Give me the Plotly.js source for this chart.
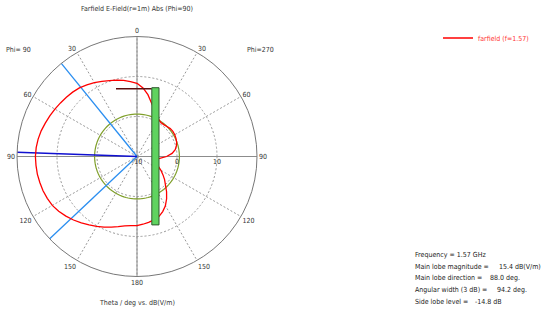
<!DOCTYPE html>
<html>
<head>
<meta charset="utf-8">
<script src="https://cdn.plot.ly/plotly-3.0.1.min.js"></script>
<style>html,body{margin:0;padding:0;background:#fff;}#chart{width:550px;height:313px;}</style>
</head>
<body>
<div id="chart"></div>
<script>
// ---- data ----
var thetaPhi90 = [0, 5, 10, 15, 20, 25, 30, 35, 40, 45, 50, 55, 60, 65, 70, 75, 80, 85, 90, 95, 100, 105, 110, 115, 120, 125, 130, 135, 140, 145, 150, 155, 160, 165, 170, 175, 180];
var valuesPhi90 = [8.3, 8.8, 9.3, 9.75, 10.2, 10.75, 11.3, 11.85, 12.4, 12.75, 13.05, 13.35, 13.7, 14.05, 14.4, 14.8, 15.1, 15.3, 15.4, 15.35, 15.3, 15.15, 15.0, 14.75, 14.45, 13.9, 13.2, 12.45, 11.65, 10.9, 10.2, 9.5, 8.8, 8.15, 7.6, 7.35, 7.3];
var thetaPhi270 = [0, 5, 10, 15, 20, 25, 30, 35, 40, 45, 50, 55, 60, 65, 70, 75, 80, 85, 90, 95, 100, 102, 105, 110, 115, 120, 125, 130, 135, 140, 145, 150, 155, 160, 165, 170, 175, 180];
var valuesPhi270 = [8.3, 7.2, 5.7, 3.9, 2.6, 1.4, 0.75, 0.4, 0.4, 0.6, 0.85, 0.95, 0.9, 0.75, 0.55, 0.2, -0.3, -1.2, -2.6, -4.3, -5.5, -5.8, -5.6, -5.2, -4.1, -3.1, -2.1, -1.0, 0.05, 1.5, 2.9, 4.2, 5.2, 6.0, 6.4, 6.7, 7.0, 7.3];
var mainLobeDirection = 88.0;
var beamEdges = [39.1, 133.3];
var mainLobeMagnitude = 15.4;
var sideLobeLevel = -14.8;
var angTickVals = [0, 30, 60, 90, 120, 150, 180, 210, 240, 270, 300, 330];
var angTickText = ['0', '30', '60', '90', '120', '150', '180', '150', '120', '90', '60', '30'];
var radTickVals = [-10, 0, 10];
var radTickText = ['-10', '0', '10'];
var radRange = [-10, 20];
var infoLabels = ['Frequency = 1.57 GHz', 'Main lobe magnitude =', 'Main lobe direction =', 'Angular width (3 dB) =', 'Side lobe level ='];
var infoValues = ['', '15.4 dB(V/m)', '88.0 deg.', '94.2 deg.', '-14.8 dB'];

// ---- build traces ----
var th = [], rr = [];
for (var i = 0; i < thetaPhi90.length; i++) { th.push(thetaPhi90[i]); rr.push(valuesPhi90[i]); }
for (var j = thetaPhi270.length - 1; j >= 0; j--) { th.push(360 - thetaPhi270[j]); rr.push(valuesPhi270[j]); }

var sllR = mainLobeMagnitude + sideLobeLevel;
var cTh = [], cR = [];
for (var a = 0; a <= 360; a += 3) { cTh.push(a); cR.push(sllR); }

var FONT = "'DejaVu Sans Condensed', 'DejaVu Sans', sans-serif";
var FS = 7;
var traces = [
  {type:'scatterpolar', r:[radRange[1], radRange[0], radRange[1]], theta:[0,0,180], mode:'lines',
   line:{color:'#8c8c8c', width:1}, showlegend:false, hoverinfo:'skip'},
  {type:'scatterpolar', r:[radRange[1], radRange[0], radRange[1]], theta:[90,90,270], mode:'lines',
   line:{color:'#8c8c8c', width:1}, showlegend:false, hoverinfo:'skip'},
  {type:'scatterpolar', r:cR, theta:cTh, mode:'lines', line:{color:'#7f9f2a', width:1.2}, showlegend:false},
  {type:'scatterpolar', r:[radRange[0], radRange[1]], theta:[beamEdges[0], beamEdges[0]], mode:'lines',
   line:{color:'#2a8ef0', width:1.3}, showlegend:false},
  {type:'scatterpolar', r:[radRange[0], radRange[1]], theta:[beamEdges[1], beamEdges[1]], mode:'lines',
   line:{color:'#2a8ef0', width:1.3}, showlegend:false},
  {type:'scatterpolar', r:[radRange[0], radRange[1]], theta:[mainLobeDirection, mainLobeDirection], mode:'lines',
   line:{color:'#1010d0', width:1.4}, showlegend:false},
  {type:'scatterpolar', r:rr, theta:th, mode:'lines', name:'farfield (f=1.57)',
   line:{color:'#ff0000', width:1.3}, showlegend:true},
  {type:'scatter', x:[0], y:[0], mode:'markers', marker:{opacity:0}, xaxis:'x', yaxis:'y', showlegend:false, hoverinfo:'skip'}
];

var dx = [17/550, 257/550], dy = [1 - 276.5/313, 1 - 36.5/313];
function ann(text, px, py, anchor, color) {
  return {text:text, x:px/550, y:1-py/313, xref:'paper', yref:'paper', showarrow:false, xanchor:anchor, yanchor:'middle',
          font:{family:FONT, size:FS, color:color || '#333'}};
}
var annotations = [
  ann('Farfield E-Field(r=1m) Abs (Phi=90)', 137, 9, 'center'),
  ann('Phi= 90', 4, 50, 'left'),
  ann('Phi=270', 245, 50, 'left'),
  ann('Theta / deg vs. dB(V/m)', 137, 303, 'center')
];
var infoY = [255, 266.5, 278, 290, 301.5];
var valX = [0, 497, 488, 495, 473];
for (var k = 0; k < infoLabels.length; k++) {
  annotations.push(ann(infoLabels[k], 413, infoY[k], 'left', '#222'));
  if (infoValues[k]) annotations.push(ann(infoValues[k], valX[k], infoY[k], 'left', '#222'));
}

var layout = {
  width:550, height:313, margin:{l:0, r:0, t:0, b:0}, paper_bgcolor:'#fff',
  font:{family:FONT, size:FS, color:'#333'},
  showlegend:true,
  legend:{x:438/550, y:1-38/313, xanchor:'left', yanchor:'middle', bgcolor:'rgba(0,0,0,0)', borderwidth:0, itemwidth:30,
          font:{family:FONT, size:FS, color:'#ff3535'}},
  xaxis:{domain:dx, range:[-30,30], visible:false, fixedrange:true},
  yaxis:{domain:dy, range:[-30,30], visible:false, fixedrange:true},
  polar:{
    domain:{x:dx, y:dy}, bgcolor:'rgba(0,0,0,0)',
    angularaxis:{rotation:90, direction:'counterclockwise', tickmode:'array', tickvals:angTickVals, ticktext:angTickText,
      showline:true, linecolor:'#777', linewidth:1, showgrid:true, gridcolor:'#999', griddash:'2px,2px', gridwidth:1, ticks:'',
      tickfont:{family:FONT, size:FS, color:'#333'}},
    radialaxis:{range:radRange, tickmode:'array', tickvals:radTickVals, ticktext:radTickText, angle:0, side:'clockwise',
      showline:false, showgrid:true, gridcolor:'#999', griddash:'2px,2px', gridwidth:1, ticks:'',
      tickfont:{family:FONT, size:FS, color:'#333'}}
  },
  shapes:[
    {type:'line', xref:'x', yref:'y', x0:-5.25, x1:3.7, y0:16.95, y1:16.95, line:{color:'#5a1010', width:1.6}, layer:'above'},
    {type:'rect', xref:'x', yref:'y', x0:3.7, x1:5.5, y0:-17.1, y1:17.2, fillcolor:'#5fd35f', line:{color:'#2f5a2f', width:1}, layer:'above'}
  ],
  annotations:annotations
};
Plotly.newPlot('chart', traces, layout, {staticPlot:true, displayModeBar:false});
</script>
</body>
</html>
